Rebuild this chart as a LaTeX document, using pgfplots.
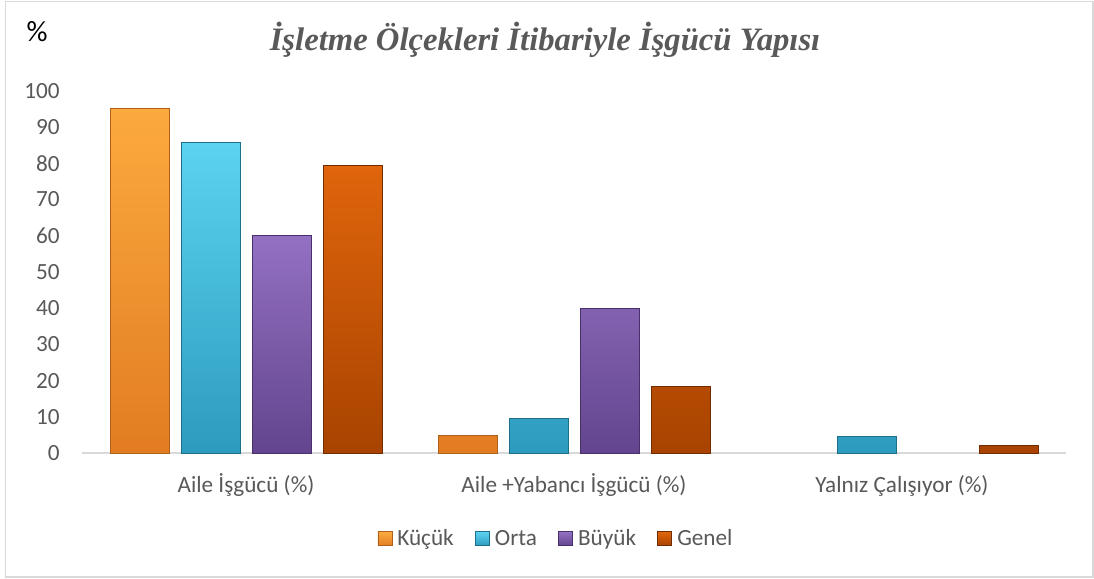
\documentclass[border=0pt]{standalone}
\usepackage{pgfplots}
\pgfplotsset{compat=1.18}
\usepackage{fontspec}
\setmainfont{Carlito}
\newfontfamily\titlefont{Liberation Serif}
\definecolor{framegray}{HTML}{D9D9D9}
\definecolor{labelgray}{HTML}{595959}
\definecolor{kTop}{HTML}{FBAA3E}\definecolor{kBot}{HTML}{E27C22}\definecolor{kEdge}{HTML}{B0601A}
\definecolor{oTop}{HTML}{5CD3F0}\definecolor{oBot}{HTML}{2C9BBE}\definecolor{oEdge}{HTML}{1D6E88}
\definecolor{bTop}{HTML}{9470C2}\definecolor{bBot}{HTML}{62458E}\definecolor{bEdge}{HTML}{48306A}
\definecolor{gTop}{HTML}{E0650C}\definecolor{gBot}{HTML}{A84300}\definecolor{gEdge}{HTML}{6E2C00}
\begin{document}
\begin{tikzpicture}
\path[use as bounding box] (0,0) rectangle (820.5pt,-433.5pt);
\draw[draw=framegray, line width=1.1pt, fill=white] (4.1pt,-1.1pt) rectangle (819.75pt,-432.75pt);
\node[font=\titlefont\bfseries\itshape\fontsize{24.5}{29}\selectfont, text=labelgray] at (408.75pt,-30pt) {İşletme Ölçekleri İtibariyle İşgücü Yapısı};
\node[font=\fontsize{22}{26}\selectfont] at (27.75pt,-24pt) {\%};
\begin{axis}[
  at={(61.5pt,-339.75pt)}, anchor=south west,
  width=738pt, height=271.7pt, scale only axis,
  xmin=-0.5, xmax=2.5, ymin=0, ymax=100,
  ytick={0,10,...,100},
  xtick={0,1,2},
  xticklabels={Aile İşgücü (\%), Aile +Yabancı İşgücü (\%), Yalnız Çalışıyor (\%)},
  /pgf/number format/assume math mode=true,
  ybar=9pt, bar width=44.25pt,
  clip=false,
  axis line style={draw=none},
  tick style={draw=none},
  major tick length=0pt,
  tick label style={font=\fontsize{17.4}{20}\selectfont, text=labelgray},
  yticklabel style={anchor=east, inner sep=0pt, xshift=-16.5pt},
  xticklabel style={anchor=base, inner sep=0pt, yshift=-29.25pt},
  legend columns=4,
  legend style={at={(0.4807,-0.237)}, anchor=center, draw=none, fill=none,
    font=\fontsize{17.4}{20}\selectfont, text=labelgray,
    inner sep=0pt,
    nodes={inner sep=0pt},
    /tikz/every odd column/.append style={column sep=3.75pt},
    /tikz/every even column/.append style={column sep=16pt}},
  legend image code/.code={\draw[#1, line width=0.6pt] (0pt,-5.25pt) rectangle (10.5pt,5.25pt);},
]
\draw[framegray, line width=1.5pt] (rel axis cs:0,0) -- (rel axis cs:1,0);
\addplot[draw=kEdge, line width=0.6pt, top color=kTop, bottom color=kBot] coordinates {(0,95) (1,4.8)};
\addplot[draw=oEdge, line width=0.6pt, top color=oTop, bottom color=oBot] coordinates {(0,85.7) (1,9.5) (2,4.5)};
\addplot[draw=bEdge, line width=0.6pt, top color=bTop, bottom color=bBot] coordinates {(0,60) (1,39.8)};
\addplot[draw=gEdge, line width=0.6pt, top color=gTop, bottom color=gBot] coordinates {(0,79.3) (1,18.4) (2,2.1)};
\legend{Küçük, Orta, Büyük, Genel}
\end{axis}
\end{tikzpicture}
\end{document}
